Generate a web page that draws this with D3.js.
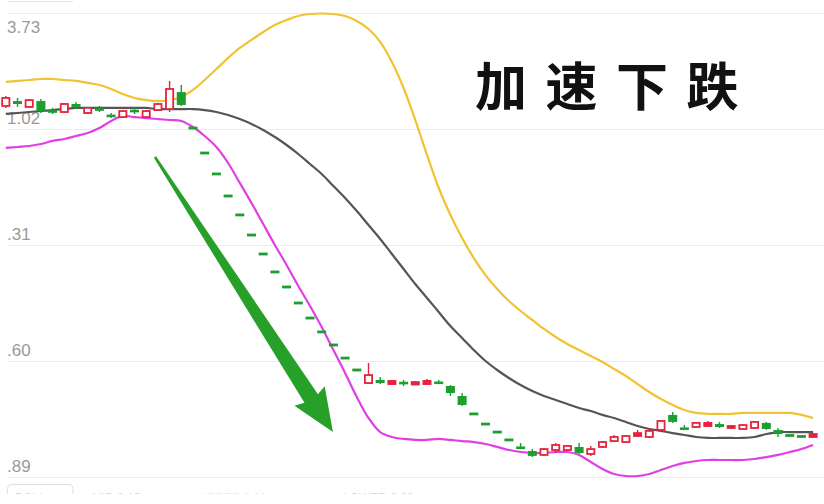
<!DOCTYPE html>
<html><head><meta charset="utf-8">
<script src="https://cdn.jsdelivr.net/npm/d3@7"></script>
<style>html,body{margin:0;padding:0;background:#fff;overflow:hidden}</style>
</head><body><svg id="c" width="824" height="504"></svg>
<script>
// ---- data (prices) ----
const open=[3.161,3.191,3.155,3.191,3.130,3.124,3.173,3.118,3.142,3.103,
 3.093,3.136,3.093,3.136,3.142,3.246,3.026,2.873,2.745,2.610,
 2.494,2.371,2.255,2.145,2.053,1.955,1.863,1.778,1.698,1.618,
 1.545,1.465,1.484,1.459,1.468,1.456,1.459,1.471,1.447,1.386,
 1.276,1.214,1.165,1.117,1.074,1.049,1.025,1.055,1.055,1.074,
 1.031,1.074,1.110,1.104,1.141,1.135,1.178,1.270,1.190,1.196,
 1.202,1.214,1.190,1.184,1.190,1.221,1.178,1.144,1.138,1.135];
const close=[3.210,3.173,3.197,3.130,3.124,3.173,3.155,3.149,3.136,3.097,
 3.130,3.124,3.130,3.173,3.265,3.167,3.026,2.873,2.745,2.610,
 2.494,2.371,2.255,2.145,2.053,1.955,1.863,1.778,1.698,1.618,
 1.545,1.514,1.465,1.478,1.462,1.471,1.478,1.462,1.404,1.331,
 1.276,1.214,1.165,1.117,1.064,1.019,1.061,1.086,1.080,1.037,
 1.061,1.104,1.135,1.141,1.159,1.172,1.233,1.227,1.181,1.221,
 1.221,1.196,1.202,1.208,1.227,1.184,1.153,1.144,1.138,1.153];
const high=[3.222,3.210,3.204,3.204,3.149,3.179,3.185,3.155,3.161,3.118,
 3.136,3.155,3.136,3.179,3.314,3.289,3.026,2.873,2.745,2.610,
 2.494,2.371,2.255,2.145,2.053,1.955,1.863,1.778,1.698,1.618,
 1.545,1.588,1.502,1.484,1.484,1.478,1.490,1.484,1.453,1.404,
 1.276,1.214,1.165,1.117,1.098,1.061,1.068,1.098,1.086,1.098,
 1.080,1.110,1.147,1.147,1.178,1.178,1.239,1.288,1.208,1.227,
 1.233,1.227,1.208,1.214,1.233,1.227,1.190,1.144,1.138,1.159];
const low=[3.149,3.155,3.149,3.118,3.112,3.118,3.142,3.112,3.124,3.087,
 3.087,3.112,3.087,3.130,3.124,3.161,3.026,2.873,2.745,2.610,
 2.494,2.371,2.255,2.145,2.053,1.955,1.863,1.778,1.698,1.618,
 1.545,1.459,1.459,1.453,1.447,1.453,1.453,1.459,1.386,1.325,
 1.276,1.214,1.165,1.117,1.061,1.012,1.019,1.037,1.049,1.031,
 1.019,1.068,1.104,1.098,1.135,1.129,1.172,1.221,1.178,1.190,
 1.196,1.190,1.184,1.178,1.184,1.178,1.135,1.144,1.138,1.129];
const upper=[3.308,3.314,3.320,3.326,3.326,3.320,3.314,3.302,3.289,3.265,
 3.234,3.210,3.197,3.191,3.197,3.216,3.259,3.320,3.387,3.455,
 3.516,3.565,3.614,3.657,3.687,3.712,3.724,3.727,3.724,3.712,
 3.681,3.632,3.553,3.430,3.271,3.075,2.861,2.659,2.494,2.353,
 2.230,2.126,2.041,1.967,1.906,1.851,1.796,1.747,1.704,1.667,
 1.631,1.594,1.551,1.508,1.459,1.410,1.367,1.331,1.300,1.282,
 1.276,1.276,1.276,1.282,1.282,1.282,1.282,1.282,1.270,1.251];
const mid=[3.112,3.118,3.124,3.130,3.136,3.142,3.149,3.149,3.149,3.149,
 3.149,3.149,3.149,3.142,3.142,3.142,3.142,3.136,3.124,3.106,
 3.081,3.051,3.014,2.971,2.922,2.867,2.806,2.745,2.671,2.598,
 2.518,2.432,2.347,2.255,2.163,2.071,1.986,1.900,1.814,1.741,
 1.667,1.600,1.545,1.496,1.453,1.416,1.386,1.361,1.337,1.312,
 1.294,1.270,1.251,1.227,1.202,1.184,1.172,1.159,1.147,1.135,
 1.129,1.129,1.129,1.129,1.135,1.153,1.165,1.165,1.165,1.165];
const lower=[2.904,2.910,2.916,2.928,2.947,2.959,2.977,2.996,3.026,3.069,
 3.100,3.093,3.087,3.081,3.075,3.069,3.032,2.977,2.910,2.812,
 2.690,2.567,2.439,2.310,2.188,2.059,1.937,1.808,1.667,1.527,
 1.380,1.251,1.165,1.135,1.123,1.117,1.117,1.123,1.117,1.110,
 1.104,1.092,1.074,1.055,1.043,1.037,1.037,1.043,1.043,1.025,
 0.982,0.939,0.908,0.896,0.896,0.908,0.933,0.957,0.976,0.988,
 0.994,0.994,0.994,0.994,1.000,1.012,1.025,1.043,1.061,1.086];
const tickValues=[3.73,3.02,2.31,1.60,0.89];
const tickLabels=["3.73","1.02",".31",".60",".89"];
const title="加速下跌";
const arrowFrom=[12.75,2.849], arrowTo=[27.96,1.165];
const legendTexts=["BOLL","MID:3.15","UPPER:3.30","LOWER:2.90"];

// ---- styles ----
const RED="#e6223d", GREEN="#1c9f30", ARROW="#27a02a";
const C_UP="#f2c230", C_MID="#555555", C_LOW="#e23ee6";

const svg=d3.select("#c");
svg.append("rect").attr("width",824).attr("height",504).attr("fill","#fff");
const n=open.length;
const x=d3.scaleLinear().domain([0,n-1]).range([5.8,813.1]);
const y=d3.scaleLinear().domain([0.89,3.73]).range([477,13]);

// grid
const grid=svg.append("g");
grid.selectAll("line").data(tickValues).join("line")
  .attr("x1",7).attr("x2",824)
  .attr("y1",d=>Math.round(y(d))+0.5).attr("y2",d=>Math.round(y(d))+0.5)
  .attr("stroke","#ebebeb").attr("stroke-width",1);
svg.append("line").attr("x1",8).attr("x2",73).attr("y1",1.5).attr("y2",1.5)
  .attr("stroke","#e6e6e6");

// tick labels
svg.append("g").selectAll("text").data(tickValues).join("text")
  .attr("x",7)
  .attr("y",(d,i)=> i===0 ? y(d)+20 : y(d)-5)
  .attr("font-family","'Liberation Sans', Arial, sans-serif")
  .attr("font-size",17).attr("fill","#9a9a9a")
  .text((d,i)=>tickLabels[i]);

// bands
const idx=d3.range(n);
const lineGen=arr=>d3.line().x(i=>x(i)).y(i=>y(arr[i])).curve(d3.curveCatmullRom)(idx);
[[upper,C_UP],[mid,C_MID],[lower,C_LOW]].forEach(([arr,col])=>{
  svg.append("path").attr("d",lineGen(arr)).attr("fill","none")
    .attr("stroke",col).attr("stroke-width",2.2).attr("stroke-linejoin","round");
});

// candles
const bw=9;
const cg=svg.append("g");
idx.forEach(i=>{
  const o=open[i], c=close[i], h=high[i], l=low[i];
  const prev = i>0 ? close[i-1] : o;
  const up = c>o || (c===o && c>prev);
  const col = up?RED:GREEN;
  const cx=x(i);
  if(h===l){
    cg.append("rect").attr("x",cx-4.5).attr("y",y(c)-1.4).attr("width",9).attr("height",2.8).attr("fill",col);
    return;
  }
  cg.append("line").attr("x1",cx).attr("x2",cx).attr("y1",y(h)).attr("y2",y(l))
    .attr("stroke",col).attr("stroke-width",1.4);
  const top=Math.min(y(o),y(c)), bot=Math.max(y(o),y(c));
  if(up){
    const hh=Math.max(bot-top,1.8);
    cg.append("rect").attr("x",cx-bw/2+0.9).attr("y",top).attr("width",bw-1.8).attr("height",hh)
      .attr("fill",hh<3.5?RED:"#fff").attr("stroke",RED).attr("stroke-width",1.8);
  } else {
    const hh=Math.max(bot-top,2.6);
    cg.append("rect").attr("x",cx-bw/2).attr("y",top-(hh-(bot-top))/2).attr("width",bw).attr("height",hh)
      .attr("fill",GREEN);
  }
});

// arrow annotation
(function(){
  const x0=x(arrowFrom[0]), y0=y(arrowFrom[1]), x1=x(arrowTo[0]), y1=y(arrowTo[1]);
  const L=Math.hypot(x1-x0,y1-y0), ux=(x1-x0)/L, uy=(y1-y0)/L, nx=uy, ny=-ux;
  const P=(t,w)=>[x0+ux*t+nx*w, y0+uy*t+ny*w];
  const tb=L-40;
  const pts=[P(0,-1.3),P(tb,-8),P(tb-3,-18),[x1,y1],P(tb-3,18),P(tb,8),P(0,1.3)];
  svg.append("path").attr("d",d3.line()(pts)+"Z").attr("fill",ARROW);
})();

// title
svg.append("text").attr("x",475).attr("y",106)
  .attr("font-family","'Noto Sans CJK SC', sans-serif").attr("font-weight",700)
  .attr("font-size",52).attr("letter-spacing",18.5).attr("fill","#111")
  .text(title);

// bottom legend row (mostly cut off)
const defs=svg.append("defs");
defs.append("clipPath").attr("id","clipB").append("rect").attr("x",0).attr("y",483).attr("width",824).attr("height",10.5);
const lg=svg.append("g").attr("clip-path","url(#clipB)");
lg.append("rect").attr("x",7.5).attr("y",484.5).attr("width",65.5).attr("height",30).attr("rx",4)
  .attr("fill","none").attr("stroke","#dedede");
const lx=[15,92,199,343], lc=["#777","#888",C_UP,C_LOW];
legendTexts.forEach((t,i)=>{
  lg.append("text").attr("x",lx[i]).attr("y",502).attr("font-size",12)
    .attr("font-family","'Liberation Sans', Arial, sans-serif").attr("fill",lc[i]).attr("opacity",0.6).text(t);
});
</script></body></html>
